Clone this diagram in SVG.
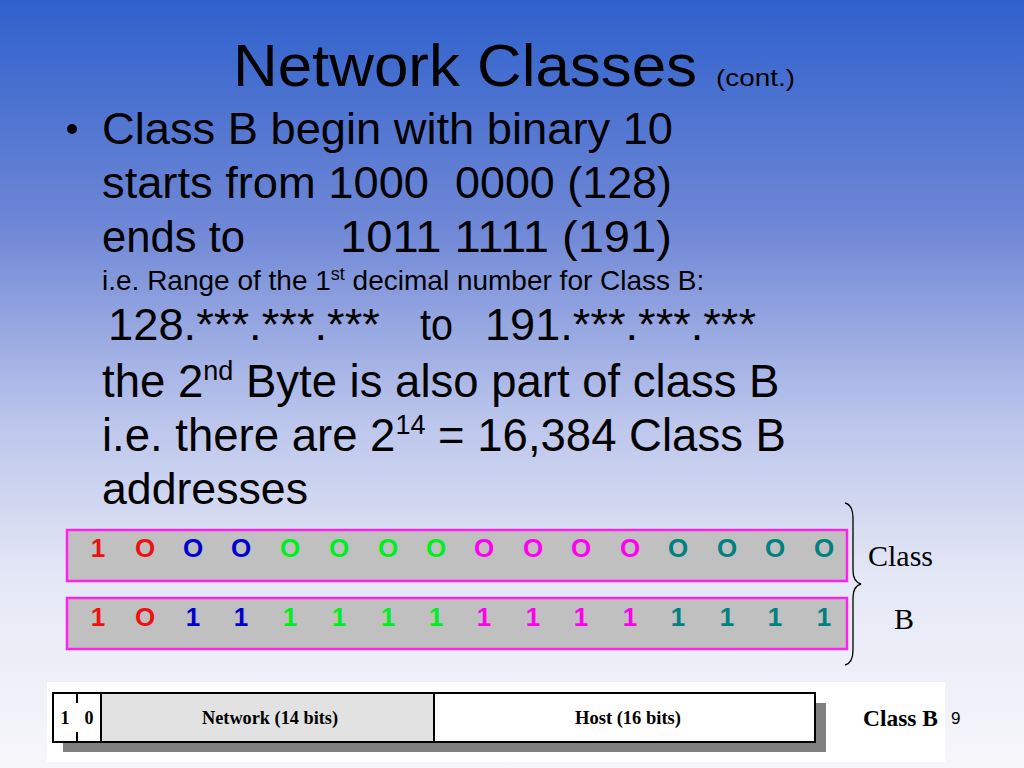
<svg xmlns="http://www.w3.org/2000/svg" width="1024" height="768" viewBox="0 0 1024 768">
<defs>
<linearGradient id="bg" x1="0" y1="0" x2="0" y2="1">
<stop offset="0" stop-color="#2f61cc"/>
<stop offset="0.3" stop-color="#7088d6"/>
<stop offset="0.55" stop-color="#bcc6ec"/>
<stop offset="0.75" stop-color="#e4e7f5"/>
<stop offset="1" stop-color="#f7f7fb"/>
</linearGradient>
</defs>
<style>
.t{font-family:"Liberation Sans",Arial,sans-serif;fill:#000}
.s{font-family:"Liberation Serif","Times New Roman",serif;fill:#000}
.b{font-family:"Liberation Sans",Arial,sans-serif;font-size:26px;font-weight:bold;text-anchor:middle}
.bar{fill:#c0c0c0;stroke:#ff22ee;stroke-width:2.5}
.r{fill:#ee1111}.u{fill:#0000cc}.g{fill:#00ee22}.m{fill:#ff00ee}.c{fill:#008080}
.ln{stroke:#000;stroke-width:2;fill:none}
.f{font-family:"Liberation Serif","Times New Roman",serif;font-size:18px;font-weight:bold;text-anchor:middle;fill:#000}
</style>
<rect width="1024" height="768" fill="url(#bg)"/>
<g id="title">
<text class="t" x="233" y="86" font-size="60" textLength="464" lengthAdjust="spacingAndGlyphs">Network Classes</text>
<text class="t" x="716" y="86" font-size="24" textLength="79" lengthAdjust="spacingAndGlyphs">(cont.)</text>
</g>
<g id="body">
<circle cx="72" cy="129" r="5" fill="#000"/>
<text class="t" x="102" y="144" font-size="44" textLength="571" lengthAdjust="spacingAndGlyphs">Class B begin with binary 10</text>
<text class="t" x="102" y="198" font-size="44" textLength="327" lengthAdjust="spacingAndGlyphs">starts from 1000</text>
<text class="t" x="455" y="198" font-size="44" textLength="217" lengthAdjust="spacingAndGlyphs">0000 (128)</text>
<text class="t" x="102" y="252" font-size="44" textLength="143" lengthAdjust="spacingAndGlyphs">ends to</text>
<text class="t" x="340" y="252" font-size="44" textLength="332" lengthAdjust="spacingAndGlyphs">1011 1111 (191)</text>
<text class="t" x="102" y="290" font-size="28">i.e. Range of the 1<tspan font-size="18" dy="-10">st</tspan><tspan dy="10"> decimal number for Class B:</tspan></text>
<text class="t" x="108" y="340" font-size="44" textLength="272" lengthAdjust="spacingAndGlyphs">128.***.***.***</text>
<text class="t" x="420" y="340" font-size="44" textLength="33" lengthAdjust="spacingAndGlyphs">to</text>
<text class="t" x="485" y="340" font-size="44" textLength="271" lengthAdjust="spacingAndGlyphs">191.***.***.***</text>
<text class="t" x="102" y="397" font-size="45.5">the 2<tspan font-size="27" dy="-17">nd</tspan><tspan dy="17"> Byte is also part of class B</tspan></text>
<text class="t" x="102" y="451" font-size="45.5">i.e. there are 2<tspan font-size="27" dy="-17">14</tspan><tspan dy="17"> = 16,384 Class B</tspan></text>
<text class="t" x="102" y="504" font-size="44" textLength="206" lengthAdjust="spacingAndGlyphs">addresses</text>
</g>
<g id="row1">
<rect class="bar" x="67" y="530" width="780" height="51"/>
<text class="b r" x="98" y="557">1</text>
<text class="b r" x="145" y="557">O</text>
<text class="b u" x="193" y="557">O</text>
<text class="b u" x="241" y="557">O</text>
<text class="b g" x="290" y="557">O</text>
<text class="b g" x="339" y="557">O</text>
<text class="b g" x="388" y="557">O</text>
<text class="b g" x="436" y="557">O</text>
<text class="b m" x="484" y="557">O</text>
<text class="b m" x="533" y="557">O</text>
<text class="b m" x="581" y="557">O</text>
<text class="b m" x="630" y="557">O</text>
<text class="b c" x="678" y="557">O</text>
<text class="b c" x="727" y="557">O</text>
<text class="b c" x="775" y="557">O</text>
<text class="b c" x="824" y="557">O</text>
</g>
<g id="row2">
<rect class="bar" x="67" y="598" width="780" height="51"/>
<text class="b r" x="98" y="626">1</text>
<text class="b r" x="145" y="626">O</text>
<text class="b u" x="193" y="626">1</text>
<text class="b u" x="241" y="626">1</text>
<text class="b g" x="290" y="626">1</text>
<text class="b g" x="339" y="626">1</text>
<text class="b g" x="388" y="626">1</text>
<text class="b g" x="436" y="626">1</text>
<text class="b m" x="484" y="626">1</text>
<text class="b m" x="533" y="626">1</text>
<text class="b m" x="581" y="626">1</text>
<text class="b m" x="630" y="626">1</text>
<text class="b c" x="678" y="626">1</text>
<text class="b c" x="727" y="626">1</text>
<text class="b c" x="775" y="626">1</text>
<text class="b c" x="824" y="626">1</text>
</g>
<g id="brace">
<path d="M845,503 Q853,505 853,518 L853,570 Q853,582 861,584 Q853,586 853,598 L853,650 Q853,663 845,665" fill="none" stroke="#000" stroke-width="1.3"/>
<text class="s" x="868" y="566" font-size="30">Class</text>
<text class="s" x="894" y="629" font-size="30">B</text>
</g>
<g id="format">
<rect x="47" y="682" width="898" height="80" fill="#ffffff"/>
<rect x="63" y="703" width="763" height="49" fill="#808080"/>
<rect x="53" y="693" width="762" height="49" fill="#ffffff"/>
<rect x="101" y="693" width="333" height="49" fill="#e2e2e2"/>
<rect x="53" y="693" width="762" height="49" class="ln"/>
<line x1="101" y1="693" x2="101" y2="742" class="ln" stroke-width="1.3"/>
<line x1="434" y1="693" x2="434" y2="742" class="ln" stroke-width="1.3"/>
<line x1="77" y1="693" x2="77" y2="703" class="ln" stroke-width="1.2"/>
<line x1="77" y1="732" x2="77" y2="742" class="ln" stroke-width="1.2"/>
<text class="f" x="65" y="724">1</text>
<text class="f" x="89" y="724">0</text>
<text class="f" x="270" y="724" textLength="136" lengthAdjust="spacingAndGlyphs">Network (14 bits)</text>
<text class="f" x="628" y="724" textLength="106" lengthAdjust="spacingAndGlyphs">Host (16 bits)</text>
<text class="s" x="863" y="726" font-size="23" font-weight="bold" textLength="75" lengthAdjust="spacingAndGlyphs">Class B</text>
<text class="t" x="951" y="724" font-size="17">9</text>
</g>
</svg>
